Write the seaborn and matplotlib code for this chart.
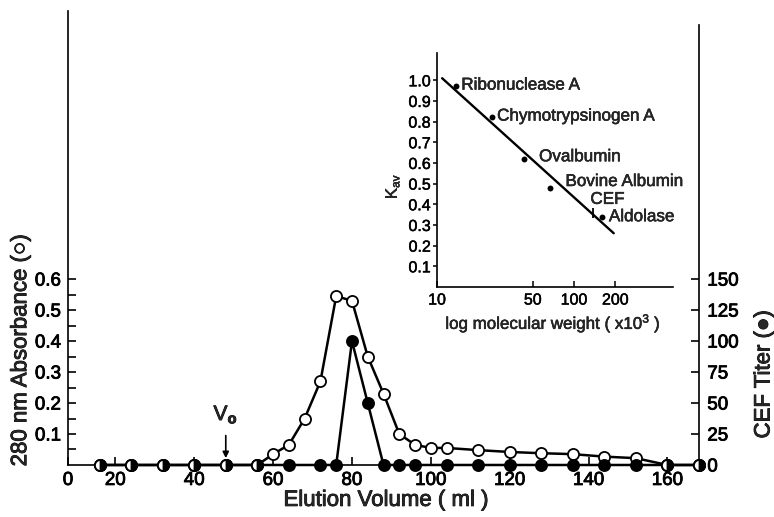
import matplotlib
matplotlib.use("Agg")
import matplotlib.pyplot as plt
import matplotlib.patheffects as pe
import seaborn as sns

# ---------------- data ----------------
# Elution profile: 280 nm absorbance (open circles)
elution_abs = [16, 24, 32, 40, 48, 56, 60, 64, 68, 72, 76, 80, 84, 88, 92, 96,
               100, 104, 112, 120, 128, 136, 144, 152, 160, 168]
absorbance = [0, 0, 0, 0, 0, 0, 0.035, 0.065, 0.15, 0.27, 0.545, 0.53, 0.35,
              0.23, 0.10, 0.065, 0.055, 0.055, 0.048, 0.042, 0.038, 0.035,
              0.027, 0.022, 0, 0]
# CEF titer (filled circles)
elution_titer = [16, 24, 32, 40, 48, 56, 64, 72, 76, 80, 84, 88, 92, 96, 104,
                 112, 120, 128, 136, 144, 152, 160, 168]
titer = [0, 0, 0, 0, 0, 0, 0, 0, 0, 100, 50, 0, 0, 0, 0, 0, 0, 0, 0, 0, 0, 0, 0]
# fractions where both series are zero (drawn half-filled)
elution_both_zero = [16, 24, 32, 40, 48, 56, 160, 168]
both_zero = [0, 0, 0, 0, 0, 0, 0, 0]

void_volume = 48

x_ticks = [8, 20, 40, 60, 80, 100, 120, 140, 160]
x_tick_labels = ["0", "20", "40", "60", "80", "100", "120", "140", "160"]
abs_ticks = [0.1, 0.2, 0.3, 0.4, 0.5, 0.6]
abs_tick_labels = ["0.1", "0.2", "0.3", "0.4", "0.5", "0.6"]
abs_minor = [0.05, 0.15, 0.25, 0.35, 0.45, 0.55]
titer_ticks = [0, 25, 50, 75, 100, 125, 150]
titer_tick_labels = ["0", "25", "50", "75", "100", "125", "150"]

# Inset: calibration
proteins = ["Ribonuclease A", "Chymotrypsinogen A", "Ovalbumin",
            "Bovine Albumin", "Aldolase"]
mol_weight = [13.7, 25, 43, 67, 160]
kav = [0.97, 0.82, 0.62, 0.48, 0.34]
cef_mw = [138]
cef_kav = [0.36]
fit_mw = [10.9, 195]
fit_kav = [1.01, 0.26]
inset_x_ticks = [10, 50, 100, 200]
inset_x_tick_labels = ["10", "50", "100", "200"]
inset_y_ticks = [0.1, 0.2, 0.3, 0.4, 0.5, 0.6, 0.7, 0.8, 0.9, 1.0]
inset_y_tick_labels = ["0.1", "0.2", "0.3", "0.4", "0.5", "0.6", "0.7",
                       "0.8", "0.9", "1.0"]

# ---------------- style ----------------
sns.set_theme(style="ticks")
plt.rcParams["font.family"] = ["Liberation Sans", "DejaVu Sans"]
plt.rcParams["mathtext.fontset"] = "custom"
plt.rcParams["mathtext.rm"] = "Liberation Sans"
plt.rcParams["mathtext.it"] = "Liberation Sans"
plt.rcParams["mathtext.bf"] = "Liberation Sans:bold"
plt.rcParams["axes.linewidth"] = 1.2

heavy = [pe.withStroke(linewidth=0.6, foreground="black")]
heavy_s = [pe.withStroke(linewidth=0.35, foreground="black")]

fig = plt.figure(figsize=(7.74, 5.17), dpi=100)
ax = fig.add_axes([0.0879, 0.1006, 0.8152, 0.878])
ax.set_facecolor("none")
ax2 = ax.twinx()

lw = 1.8
ms = 8
mew = 1.3

sns.lineplot(x=elution_abs, y=absorbance, ax=ax, color="black", lw=lw,
             marker="o", markersize=ms, markerfacecolor="white",
             markeredgecolor="black", markeredgewidth=mew, clip_on=False,
             zorder=3)
sns.lineplot(x=elution_titer, y=titer, ax=ax2, color="black", lw=lw,
             marker="o", markersize=ms, markerfacecolor="black",
             markeredgecolor="black", markeredgewidth=mew, clip_on=False,
             zorder=3)
ax2.plot(elution_both_zero, both_zero, linestyle="none", marker="o",
         markersize=ms, fillstyle="right", markerfacecolor="black",
         markerfacecoloralt="white", markeredgecolor="black",
         markeredgewidth=mew, clip_on=False, zorder=5)

ax.set_xlim(8, 168)
ax.set_ylim(0, 1.465)
ax2.set_ylim(0, 1.465 * 250)

ax.set_xticks(x_ticks)
ax.set_xticklabels(x_tick_labels)
ax.set_yticks(abs_ticks)
ax.set_yticklabels(abs_tick_labels)
ax.set_yticks(abs_minor, minor=True)
ax2.set_yticks(titer_ticks)
ax2.set_yticklabels(titer_tick_labels)

ax.tick_params(axis="x", direction="in", length=6, width=1.2, labelsize=13.5,
               pad=5, colors="black")
ax.tick_params(axis="y", which="both", direction="in", length=6, width=1.2,
               labelsize=13.5, pad=5, colors="black")
ax2.tick_params(axis="y", direction="in", length=6, width=1.2, labelsize=13.5,
                pad=6, colors="black")

for s in ["top", "right"]:
    ax.spines[s].set_visible(False)
for s in ["top", "left", "bottom"]:
    ax2.spines[s].set_visible(False)
ax2.spines["right"].set_bounds(0, 355)
for a in (ax, ax2):
    for s in a.spines.values():
        s.set_color("black")
        s.set_linewidth(1.2)

ax.set_xlabel("Elution Volume ( ml )", fontsize=16, va="center")
ax.xaxis.set_label_coords(0.504, -0.078)
ax.set_ylabel("280 nm Absorbance (○)", fontsize=16, va="center")
ax.yaxis.set_label_coords(-0.075, 0.253)
ax2.set_ylabel("CEF Titer (●)", fontsize=16, va="center", rotation=90)
ax2.yaxis.set_label_coords(1.103, 0.20)

# void volume marker
ax.text(void_volume, 0.145, r"V$_{\mathbf{o}}$", fontsize=15, ha="center",
        va="baseline")
ax.annotate("", xy=(void_volume, 0.022), xytext=(void_volume, 0.095),
            arrowprops=dict(arrowstyle="-|>", color="black", lw=1.2,
                            mutation_scale=9, shrinkA=0, shrinkB=0))

# ---------------- inset ----------------
axi = fig.add_axes([0.5646, 0.4449, 0.3049, 0.4526])
axi.set_facecolor("none")
axi.set_xscale("log")
sns.lineplot(x=fit_mw, y=fit_kav, ax=axi, color="black", lw=1.7)
sns.scatterplot(x=mol_weight, y=kav, ax=axi, color="black", s=18,
                edgecolor="black", linewidth=0, zorder=4)
axi.plot(cef_mw, cef_kav, linestyle="none", marker="|", markersize=7,
         markeredgewidth=1.3, color="black")

axi.set_xlim(10, 528)
axi.set_ylim(0, 1.132)
axi.set_xticks(inset_x_ticks)
axi.set_xticklabels(inset_x_tick_labels)
axi.xaxis.set_minor_locator(matplotlib.ticker.NullLocator())
axi.set_yticks(inset_y_ticks)
axi.set_yticklabels(inset_y_tick_labels)
axi.tick_params(axis="x", direction="in", length=4, width=1.1, labelsize=11.5,
                pad=4, colors="black")
axi.tick_params(axis="y", direction="out", length=3, width=1.1, labelsize=11.5,
                pad=1.5, colors="black")
for s in ["top", "right"]:
    axi.spines[s].set_visible(False)
for s in ["left", "bottom"]:
    axi.spines[s].set_color("black")
    axi.spines[s].set_linewidth(1.2)

label_offsets = [(4, 1), (4, 1), (11, 1.5), (11, 4.5), (5, 0)]
for name, mw, k, off in zip(proteins, mol_weight, kav, label_offsets):
    axi.annotate(name, xy=(mw, k), xytext=off, textcoords="offset points",
                 fontsize=12.3, va="center", ha="left", path_effects=heavy_s)
axi.annotate("CEF", xy=(cef_mw[0], cef_kav[0]), xytext=(-2, 9.5),
             textcoords="offset points", fontsize=12.3, va="center",
             ha="left", path_effects=heavy_s)

axi.set_xlabel(r"log molecular weight ( x10$^{3}$ )", fontsize=12.2,
               va="center")
axi.xaxis.set_label_coords(0.49, -0.154)
axi.set_ylabel(r"K$_{\mathregular{av}}$", fontsize=12, va="center")
axi.yaxis.set_label_coords(-0.19, 0.43)

# heavier text like the printed original
for t in ([ax.xaxis.label, ax.yaxis.label, ax2.yaxis.label]
          + ax.get_xticklabels() + ax.get_yticklabels()
          + ax2.get_yticklabels() + ax.texts):
    t.set_path_effects(heavy)
for t in ([axi.xaxis.label, axi.yaxis.label] + axi.get_xticklabels()
          + axi.get_yticklabels()):
    t.set_path_effects(heavy_s)

fig.savefig("out.png", dpi=100)
